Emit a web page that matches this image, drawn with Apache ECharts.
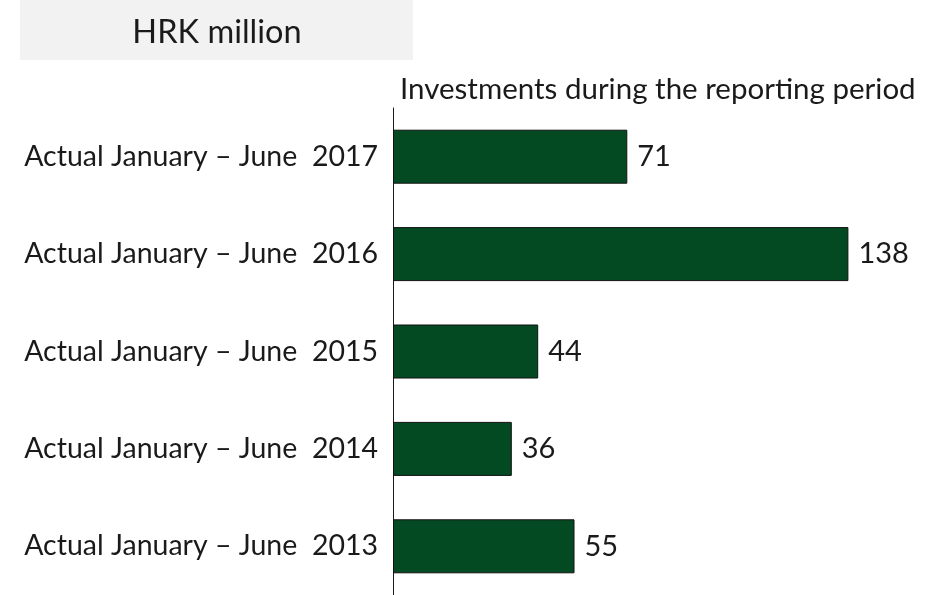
<!DOCTYPE html>
<html>
<head>
<meta charset="utf-8">
<script src="https://cdn.jsdelivr.net/npm/echarts@6/dist/echarts.min.js"></script>
<style>
  html, body { margin: 0; padding: 0; background: #ffffff; }
  #chart { width: 939px; height: 595px; }
</style>
</head>
<body>
<div id="chart"></div>
<script>
// Investments, January–June of each year (HRK million)
const categories = [
  'Actual January \u2013 June  2013',
  'Actual January \u2013 June  2014',
  'Actual January \u2013 June  2015',
  'Actual January \u2013 June  2016',
  'Actual January \u2013 June  2017'
];
const investments = [55, 36, 44, 138, 71];
const unitLabel = 'HRK million';
const seriesLabel = 'Investments during the reporting period';

const FONT = 'Lato';
const TEXT = '#1a1a1a';

const chart = echarts.init(document.getElementById('chart'), null, { renderer: 'canvas' });

chart.setOption({
  animation: false,
  backgroundColor: '#ffffff',
  grid: { left: 393, top: 108, width: 495, height: 489, containLabel: false },
  graphic: [
    {
      type: 'rect',
      shape: { x: 20, y: 0, width: 393, height: 60 },
      style: { fill: '#f2f2f2' },
      silent: true
    },
    {
      type: 'text',
      x: 217, y: 33,
      style: {
        text: unitLabel, fill: TEXT, font: '32.5px ' + FONT,
        align: 'center', verticalAlign: 'middle'
      }
    },
    {
      type: 'text',
      x: 400, y: 89,
      style: {
        text: seriesLabel, fill: TEXT, font: '29.5px ' + FONT,
        align: 'left', verticalAlign: 'middle'
      }
    }
  ],
  xAxis: {
    type: 'value',
    min: 0,
    max: 150,
    show: false
  },
  yAxis: {
    type: 'category',
    data: categories,
    axisLine: { show: true, lineStyle: { color: '#1a1a1a', width: 1 } },
    axisTick: { show: false },
    axisLabel: {
      color: TEXT, fontFamily: FONT, fontSize: 28.5, margin: 15,
      padding: [4, 0, 0, 0]
    },
    splitLine: { show: false }
  },
  series: [
    {
      type: 'bar',
      data: investments,
      barWidth: 54,
      itemStyle: { color: '#034a22', borderColor: '#111111', borderWidth: 1 },
      label: {
        show: true, position: 'right', distance: 10,
        color: TEXT, fontFamily: FONT, fontSize: 29,
        padding: [5, 0, 0, 0]
      }
    }
  ]
});
</script>
</body>
</html>
